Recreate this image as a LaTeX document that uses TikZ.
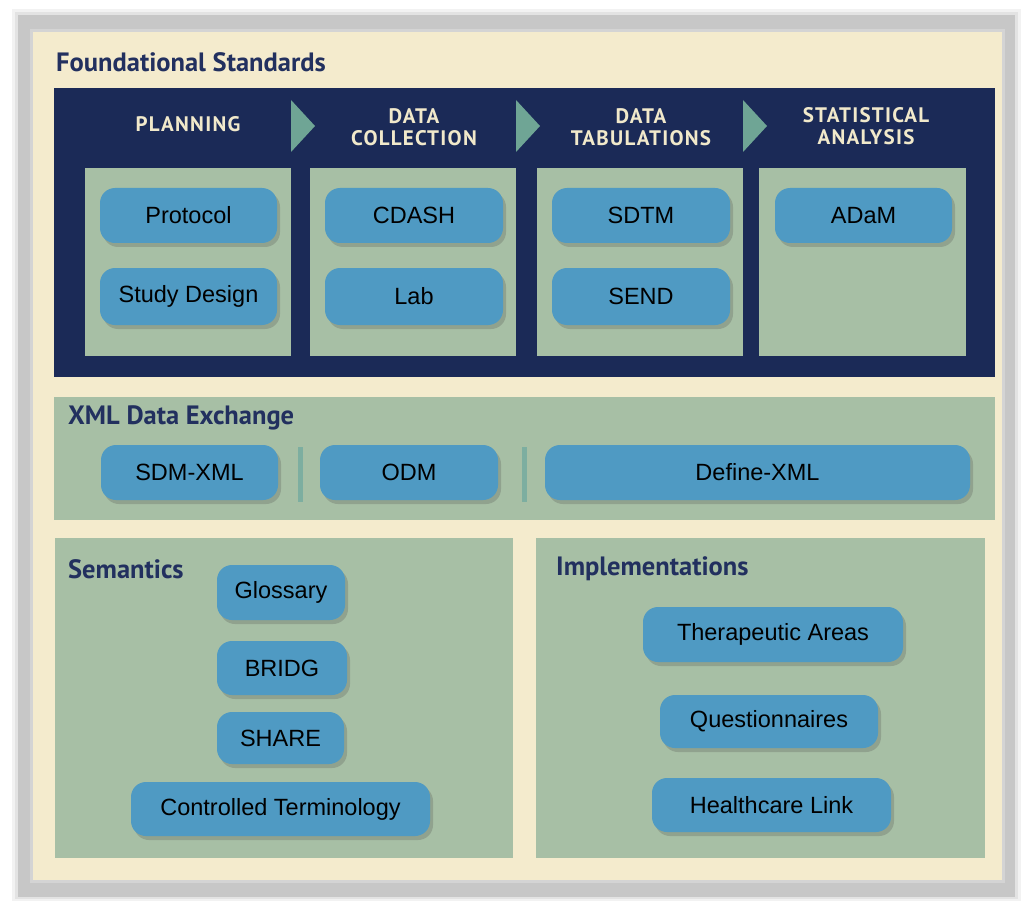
\documentclass[tikz,border=0pt]{standalone}
\usepackage{fontspec}
\setmainfont{Liberation Sans}
\newfontfamily\titlefont{PT Sans}
\newfontfamily\phasefont[LetterSpace=6]{PT Sans}
\usepackage{tikz}
\usetikzlibrary{shadows}
\definecolor{navy}{HTML}{1B2A57}
\definecolor{cream}{HTML}{F4EBCD}
\definecolor{sage}{HTML}{A7BFA5}
\definecolor{boxblue}{HTML}{4F9AC3}
\definecolor{teal}{HTML}{6FA595}
\definecolor{titlenavy}{HTML}{22305F}
\definecolor{phasetext}{HTML}{F1E9CB}

\begin{document}
\begin{tikzpicture}[x=1pt,y=-1pt,
  stdbox/.style={fill=boxblue, rounded corners=15pt, inner sep=0pt,
    font=\fontsize{23.5}{27}\selectfont, text=black,
    drop shadow={shadow xshift=3pt, shadow yshift=-4pt, opacity=0.25, fill=black!70}},
  sectitle/.style={anchor=west, inner sep=0pt, text=titlenavy,
    font=\titlefont\bfseries\fontsize{26.5}{30}\selectfont},
  phase/.style={align=center, inner sep=0pt, text=phasetext,
    font=\phasefont\bfseries\fontsize{21}{22}\selectfont}]
\useasboundingbox (0,0) rectangle (1035,901);
\fill[white] (0,0) rectangle (1035,901);
% frame
\fill[black!5] (12,9) rectangle (1021,901);
\fill[black!11] (15,12) rectangle (1018,899);
\fill[black!22] (18,15) rectangle (1015,897);
\fill[black!17] (30,29) rectangle (1005,883);
\fill[cream] (33,32) rectangle (1002,880);

% foundational standards
\node[sectitle] (fstitle) at (56,62) {Foundational Standards};
\fill[navy] (54,88) rectangle (995,377);
\fill[sage] (85,168) rectangle (291,356);
\fill[sage] (310,168) rectangle (516,356);
\fill[sage] (537,168) rectangle (743,356);
\fill[sage] (759,168) rectangle (966,356);
\foreach \x in {291,516,743}
  \fill[teal] (\x,100) -- (\x+24,126) -- (\x,152) -- cycle;

\node[phase] (planning) at (188,124) {PLANNING};
\node[phase] (collection) at (414,127) {DATA\\COLLECTION};
\node[phase] (tabulation) at (641,127) {DATA\\TABULATIONS};
\node[phase] (statistical) at (866,126) {STATISTICAL\\ANALYSIS};

\node[stdbox, minimum width=177pt, minimum height=55pt] (protocol) at (188.5,215.5) {Protocol};
\node[stdbox, minimum width=177pt, minimum height=57pt] (studydesign) at (188.5,296.5) {Study Design};
\node[stdbox, minimum width=178pt, minimum height=55pt] (cdash) at (414,215.5) {CDASH};
\node[stdbox, minimum width=178pt, minimum height=57pt] (lab) at (414,296.5) {Lab};
\node[stdbox, minimum width=178pt, minimum height=55pt] (sdtm) at (641,215.5) {SDTM};
\node[stdbox, minimum width=178pt, minimum height=57pt] (send) at (641,296.5) {SEND};
\node[stdbox, minimum width=177pt, minimum height=55pt] (adam) at (863.5,215.5) {ADaM};

% xml data exchange
\fill[sage] (54,397) rectangle (995,520);
\node[sectitle] (xmltitle) at (68,418) {XML Data Exchange};
\fill[teal!90] (298,447) rectangle (303,502);
\fill[teal!90] (522,447) rectangle (527,502);
\node[stdbox, minimum width=177pt, minimum height=55pt] (sdmxml) at (189.5,472.5) {SDM-XML};
\node[stdbox, minimum width=178pt, minimum height=55pt] (odm) at (409,472.5) {ODM};
\node[stdbox, minimum width=425pt, minimum height=55pt] (definexml) at (757.5,472.5) {Define-XML};

% semantics
\fill[sage] (55,538) rectangle (513,858);
\node[sectitle] (semtitle) at (68,569) {Semantics};
\node[stdbox, minimum width=128pt, minimum height=55pt] (glossary) at (281,592.5) {Glossary};
\node[stdbox, minimum width=130pt, minimum height=54pt] (bridg) at (282,668) {BRIDG};
\node[stdbox, minimum width=127pt, minimum height=52pt] (share) at (280.5,738) {SHARE};
\node[stdbox, minimum width=299pt, minimum height=54pt] (ctrlterm) at (280.5,809) {Controlled Terminology};

% implementations
\fill[sage] (536,538) rectangle (985,858);
\node[sectitle] (impltitle) at (556,569) {Implementations};
\node[stdbox, minimum width=260pt, minimum height=55pt] (therapeutic) at (773,634.5) {Therapeutic Areas};
\node[stdbox, minimum width=218pt, minimum height=53pt] (questionnaires) at (769,721.5) {Questionnaires};
\node[stdbox, minimum width=239pt, minimum height=54pt] (healthcare) at (771.5,805) {Healthcare Link};
\end{tikzpicture}
\end{document}
